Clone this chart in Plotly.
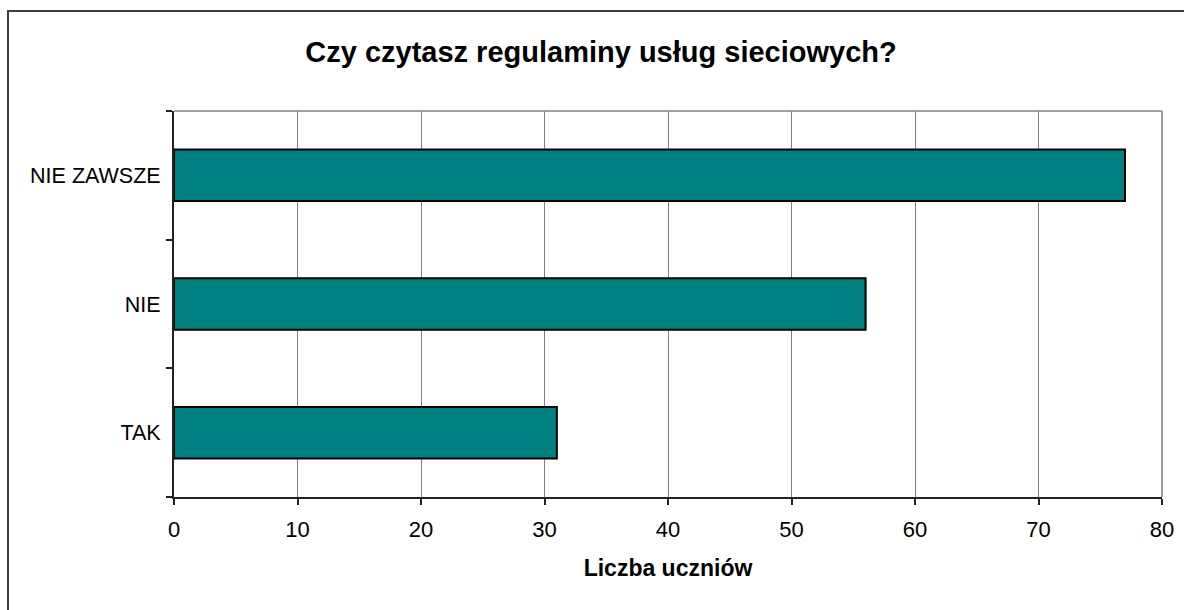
import plotly.graph_objects as go

categories = ["TAK", "NIE", "NIE ZAWSZE"]
values = [31, 56, 77]
x_ticks = [0, 10, 20, 30, 40, 50, 60, 70, 80]

title_text = "Czy czytasz regulaminy usług sieciowych?"
x_title = "Liczba uczniów"

FONT = "Liberation Sans, Arial, sans-serif"

fig = go.Figure(
    go.Bar(
        x=values,
        y=categories,
        orientation="h",
        marker=dict(color="#008080", line=dict(color="#000000", width=2)),
        hoverinfo="x+y",
    )
)

W, H = 1184, 610
ml, mr, mt, mb = 174, 22, 111, 113
pw = W - ml - mr
ph = H - mt - mb

def px_x(p):
    return (p - ml) / pw

def px_y(p):
    return (H - mb - p) / ph

fig.update_layout(
    width=W,
    height=H,
    margin=dict(l=ml, r=mr, t=mt, b=mb, autoexpand=False),
    paper_bgcolor="#ffffff",
    plot_bgcolor="#ffffff",
    bargap=0.6,
    showlegend=False,
    font=dict(family=FONT, color="#000000", size=22),
    title=dict(
        text=title_text,
        x=601 / W,
        xanchor="center",
        y=1 - 52 / H,
        yanchor="middle",
        font=dict(family=FONT, size=29, color="#000000", weight="bold"),
    ),
    xaxis=dict(
        range=[0, 80],
        tickvals=x_ticks,
        ticktext=[str(v) for v in x_ticks],
        showgrid=True,
        gridcolor="#808080",
        gridwidth=1,
        zeroline=False,
        showline=True,
        linecolor="#222222",
        linewidth=2,
        ticks="outside",
        ticklen=6,
        tickcolor="#222222",
        tickwidth=1.5,
        ticklabelstandoff=6,
        tickfont=dict(family=FONT, size=22, color="#000000"),
        title=dict(
            text=x_title,
            standoff=18,
            font=dict(family=FONT, size=23, color="#000000", weight="bold"),
        ),
        fixedrange=True,
    ),
    yaxis=dict(
        range=[-0.5, 2.5],
        showgrid=False,
        zeroline=False,
        showline=True,
        linecolor="#222222",
        linewidth=2,
        ticks="outside",
        tickson="boundaries",
        ticklen=6,
        tickcolor="#222222",
        tickwidth=1.5,
        ticklabelstandoff=7,
        tickfont=dict(family=FONT, size=21.5, color="#000000"),
        fixedrange=True,
    ),
    shapes=[
        # outer chart border (cropped at right and bottom in the reference)
        dict(
            type="rect",
            xref="paper",
            yref="paper",
            x0=px_x(8),
            x1=px_x(1196),
            y0=px_y(624),
            y1=px_y(11),
            line=dict(color="#404040", width=2),
            fillcolor="rgba(0,0,0,0)",
            layer="below",
        ),
        # top border of the plot area
        dict(
            type="line",
            xref="paper",
            yref="paper",
            x0=0,
            x1=1,
            y0=1,
            y1=1,
            line=dict(color="#808080", width=1.5),
        ),
        # right border of the plot area
        dict(
            type="line",
            xref="paper",
            yref="paper",
            x0=1,
            x1=1,
            y0=0,
            y1=1,
            line=dict(color="#808080", width=1.5),
        ),
    ],
)

fig.write_html(
    "out.html",
    config={"displayModeBar": False},
    post_script="document.body.style.margin='0';document.body.style.overflow='hidden';",
)
